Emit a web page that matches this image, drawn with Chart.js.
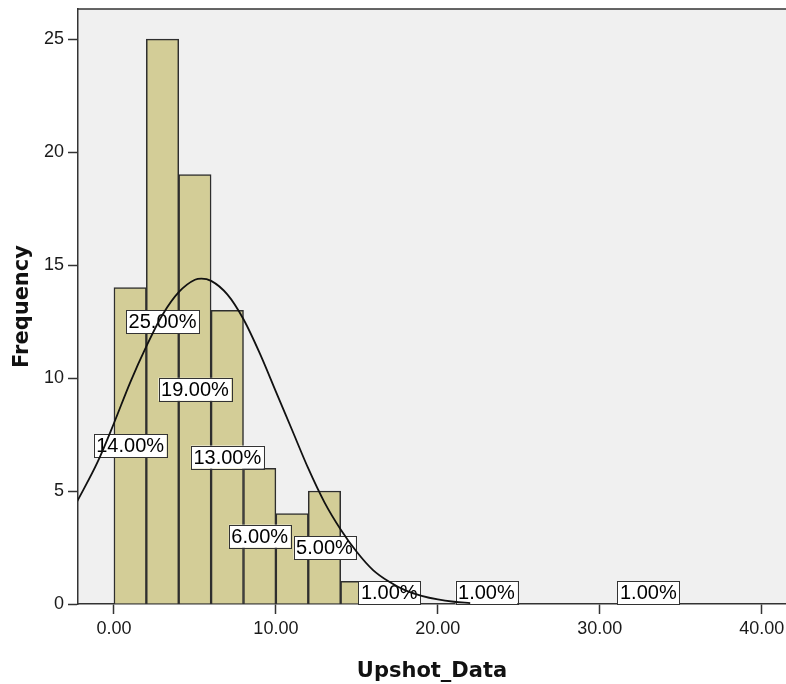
<!DOCTYPE html>
<html>
<head>
<meta charset="utf-8">
<script src="https://cdn.jsdelivr.net/npm/chart.js@4/dist/chart.umd.min.js"></script>
<style>
  html, body { margin: 0; padding: 0; background: #fff; }
  #wrap { width: 786px; height: 684px; }
</style>
</head>
<body>
<div id="wrap"><canvas id="histogram"></canvas></div>
<script>
// histogram bins (centre of each 2-wide bin) and counts
var binCenters = [1, 3, 5, 7, 9, 11, 13, 15, 17, 23, 33];
var counts = [14, 25, 19, 13, 6, 4, 5, 1, 1, 1, 1];
var pctLabels = ['14.00%', '25.00%', '19.00%', '13.00%', '6.00%', null, '5.00%', null, '1.00%', '1.00%', '1.00%'];

// normal curve
var curveX = [-2.3, -1, 0, 1, 2, 3, 4, 5, 5.4, 6, 7, 8, 9, 10, 11, 12, 13, 14, 15, 16, 17, 18, 19, 20, 21, 22];
var curveY = [4.5, 6.3, 8.0, 9.8, 11.4, 12.8, 13.8, 14.35, 14.4, 14.3, 13.7, 12.6, 11.1, 9.4, 7.7, 6.0, 4.5, 3.3, 2.3, 1.5, 0.98, 0.6, 0.36, 0.2, 0.1, 0.04];

var xTicks = [0, 10, 20, 30, 40];
var yTicks = [0, 5, 10, 15, 20, 25];

var barData = binCenters.map(function(x, i) { return {x: x, y: counts[i]}; });
var curveData = curveX.map(function(x, i) { return {x: x, y: curveY[i]}; });

var plotBg = {
  id: 'plotBg',
  beforeDraw: function(chart) {
    var a = chart.chartArea, ctx = chart.ctx;
    ctx.save();
    ctx.fillStyle = '#f0f0f0';
    ctx.fillRect(a.left, a.top, a.right - a.left, a.bottom - a.top);
    ctx.restore();
  },
  afterDraw: function(chart) {
    var a = chart.chartArea, ctx = chart.ctx;
    ctx.save();
    ctx.strokeStyle = '#333';
    ctx.lineWidth = 1.5;
    ctx.beginPath();
    ctx.moveTo(a.left, a.top);
    ctx.lineTo(a.right, a.top);
    ctx.stroke();
    ctx.restore();
  },
  // percent boxes sit above the bars but under the curve
  afterDatasetDraw: function(chart, args) {
    if (args.index !== 0) return;
    var ctx = chart.ctx;
    var xs = chart.scales.x, ys = chart.scales.y;
    ctx.save();
    ctx.font = '20px "Liberation Sans", Arial, sans-serif';
    ctx.textAlign = 'center';
    ctx.textBaseline = 'middle';
    for (var i = 0; i < binCenters.length; i++) {
      if (!pctLabels[i]) continue;
      var cx = xs.getPixelForValue(binCenters[i]);
      var cy = ys.getPixelForValue(counts[i] / 2);
      var w = ctx.measureText(pctLabels[i]).width + 5;
      var h = 23;
      ctx.fillStyle = '#fff';
      ctx.fillRect(cx - w / 2, cy - h / 2, w, h);
      ctx.strokeStyle = '#333';
      ctx.lineWidth = 1;
      ctx.strokeRect(Math.round(cx - w / 2) + 0.5, Math.round(cy - h / 2) + 0.5, Math.round(w), h);
      ctx.fillStyle = '#000';
      ctx.fillText(pctLabels[i], cx, cy + 1);
    }
    ctx.restore();
  }
};

var tickFont = { family: '"Liberation Sans", Arial, sans-serif', size: 18 };
var titleFont = { family: '"DejaVu Sans", Verdana, sans-serif', size: 21, weight: 'bold' };

var ctx = document.getElementById('histogram');
var chart = new Chart(ctx, {
  type: 'bar',
  data: {
    datasets: [{
      type: 'bar',
      data: barData,
      backgroundColor: '#d3cd97',
      borderColor: '#2e2e2e',
      borderWidth: 1.5,
      barPercentage: 1,
      categoryPercentage: 1,
      order: 2
    }, {
      type: 'line',
      data: curveData,
      borderColor: '#111',
      borderWidth: 1.8,
      pointRadius: 0,
      tension: 0.4,
      cubicInterpolationMode: 'monotone',
      fill: false,
      order: 1
    }]
  },
  options: {
    responsive: true,
    maintainAspectRatio: false,
    animation: false,
    layout: { padding: { top: 9, right: 0, left: 0, bottom: 0 } },
    plugins: {
      legend: { display: false },
      tooltip: { enabled: false }
    },
    scales: {
      x: {
        type: 'linear',
        offset: false,
        min: -2.22,
        max: 41.5,
        afterBuildTicks: function(s) { s.ticks = xTicks.map(function(v) { return {value: v}; }); },
        afterFit: function(s) { s.height = 80; s.paddingLeft = 0; s.paddingRight = 0; },
        ticks: {
          font: tickFont,
          color: '#1a1a1a',
          padding: 4,
          maxRotation: 0,
          callback: function(v) { return Number(v).toFixed(2); }
        },
        grid: { offset: false, drawOnChartArea: false, drawTicks: true, tickLength: 10, color: '#333', tickWidth: 1.5 },
        border: { display: true, color: '#333', width: 1.5 },
        title: { display: true, text: 'Upshot_Data', font: titleFont, color: '#111', padding: { top: 8, bottom: 0 } }
      },
      y: {
        min: 0,
        max: 26.33,
        afterBuildTicks: function(s) { s.ticks = yTicks.map(function(v) { return {value: v}; }); },
        afterFit: function(s) { s.width = 78; s.paddingTop = 0; s.paddingBottom = 0; },
        ticks: { font: tickFont, color: '#1a1a1a', padding: 4 },
        grid: { drawOnChartArea: false, drawTicks: true, tickLength: 10, color: '#333', tickWidth: 1.5 },
        border: { display: true, color: '#333', width: 1.5 },
        title: { display: true, text: 'Frequency', font: titleFont, color: '#111', padding: { top: 10, bottom: 0 } }
      }
    }
  },
  plugins: [plotBg]
});
</script>
</body>
</html>
